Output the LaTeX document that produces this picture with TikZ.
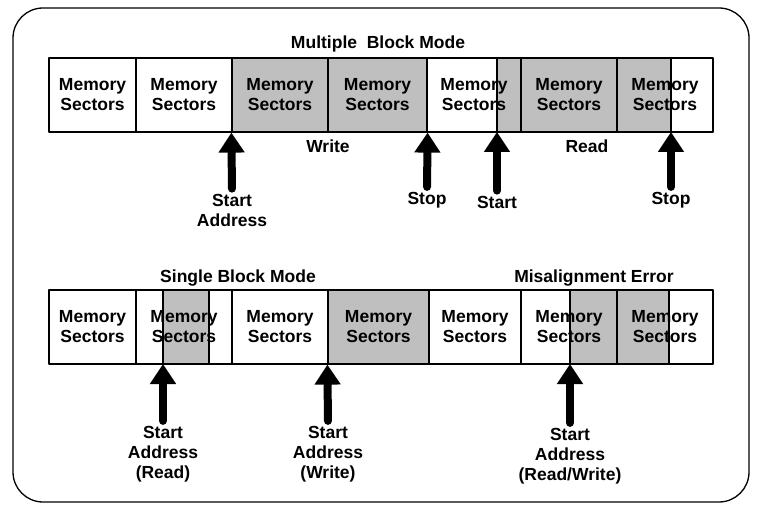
\documentclass[tikz,border=0pt]{standalone}
\usepackage{fontspec}
\setmainfont{Liberation Sans}
\usepackage{tikz}
\usetikzlibrary{arrows.meta,positioning}

\newcommand\sectfont{\fontsize{17.5}{20}\selectfont\bfseries}

\tikzset{
  sector/.style={draw,line width=1.2pt,minimum height=74pt,inner sep=0pt,align=center,font=\sectfont},
  shade/.style={fill=black!25,draw=black,line width=1.2pt},
  tag/.style={align=center,font=\sectfont,inner sep=1pt},
  uparrow/.style={line width=8pt,line cap=round,-{Triangle[width=25pt,length=20pt]},shorten <=4pt},
}

\begin{document}
\begin{tikzpicture}[x=1pt,y=-1pt,line join=round]
\useasboundingbox (0,0) rectangle (761,513);
\draw[line width=1.3pt,rounded corners=30pt] (13,8) rectangle (749,502);

% multiple block mode
\filldraw[shade] (232,58) rectangle (427,132);
\filldraw[shade] (497,58) rectangle (671,132);
\foreach \n/\a/\b in {1/49/136,2/136/232,3/232/328,4/328/427,5/427/521,6/521/617,7/617/713}{
  \pgfmathsetmacro\w{\b-\a}
  \node[sector,minimum width=\w pt] (m\n) at ({(\a+\b)/2},95) {Memory\\Sectors};
}
\coordinate (rdstart) at (497,132);
\coordinate (rdstop) at (671,132);
\node[tag] (mbm) at (378,44) {Multiple\ \ Block Mode};
\node[tag] (wr) at (328,146) {Write};
\node[tag] (rd) at (587,146) {Read};
\node[tag] (sa) at (232,210) {Start\\Address};
\node[tag] (sp1) at (427,200) {Stop};
\node[tag] (st) at (497,202) {Start};
\node[tag] (sp2) at (671,200) {Stop};
\draw[uparrow] (sa.north) -- (m3.south west);
\draw[uparrow] (sp1.north) -- (m4.south east);
\draw[uparrow] (st.north) -- (rdstart);
\draw[uparrow] (sp2.north) -- (rdstop);

% single block mode / misalignment
\filldraw[shade] (163,290) rectangle (209,364);
\filldraw[shade] (328,290) rectangle (429,364);
\filldraw[shade] (570,290) rectangle (617,364);
\filldraw[shade] (617,290) rectangle (669,364);
\foreach \n/\a/\b in {1/49/136,2/136/232,3/232/328,4/328/429,5/429/521,6/521/617,7/617/713}{
  \pgfmathsetmacro\w{\b-\a}
  \node[sector,minimum width=\w pt] (s\n) at ({(\a+\b)/2},327) {Memory\\Sectors};
}
\coordinate (rdpos) at (163,364);
\coordinate (mispos) at (570,364);
\node[tag] (sbm) at (238,278) {Single Block Mode};
\node[tag] (mis) at (594,278) {Misalignment Error};
\node[tag] (sar) at (163,454) {Start\\Address\\(Read)};
\node[tag] (saw) at (328,454) {Start\\Address\\(Write)};
\node[tag] (sarw) at (570,456) {Start\\Address\\(Read/Write)};
\draw[uparrow] (sar.north) -- (rdpos);
\draw[uparrow] (saw.north) -- (s4.south west);
\draw[uparrow] (sarw.north) -- (mispos);
\end{tikzpicture}
\end{document}
